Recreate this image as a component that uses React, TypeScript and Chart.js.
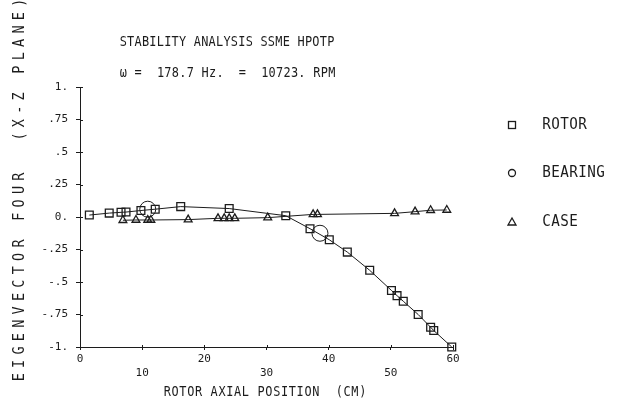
import React, { useEffect, useRef } from "react";
import { Chart, registerables } from "chart.js";

Chart.register(...registerables);

// ---- data ----
const rotorX = [1.5, 4.7, 6.6, 7.4, 9.8, 12.1, 16.2, 24.0, 33.1, 37.0, 40.1, 43.0, 46.6, 50.1, 51.0, 52.0, 54.4, 56.4, 56.9, 59.8];
const rotorY = [0.015, 0.03, 0.036, 0.038, 0.05, 0.06, 0.08, 0.065, 0.01, -0.09, -0.175, -0.27, -0.41, -0.565, -0.605, -0.648, -0.75, -0.848, -0.873, -1.0];
const bearingX = [10.9, 38.6];
const bearingY = [0.06, -0.125];
const caseX = [6.9, 9.0, 10.9, 11.4, 17.4, 22.2, 23.2, 24.0, 24.9, 30.2, 37.5, 38.2, 50.6, 53.9, 56.4, 59.0];
const caseY = [-0.025, -0.023, -0.023, -0.023, -0.02, -0.01, -0.01, -0.01, -0.01, -0.005, 0.02, 0.02, 0.028, 0.041, 0.052, 0.054];

const yTickValues = [1, 0.75, 0.5, 0.25, 0, -0.25, -0.5, -0.75, -1];
const yTickLabels = ["1.", ".75", ".5", ".25", "0.", "-.25", "-.5", "-.75", "-1."];
const xTickValues = [0, 10, 20, 30, 40, 50, 60];
const xTickLabels = ["0", "10", "20", "30", "40", "50", "60"];

const seriesNames = ["ROTOR", "BEARING", "CASE"];
const titleLine1 = "STABILITY ANALYSIS SSME HPOTP";
const titleLine2 = "\u03C9 =  178.7 Hz.  =  10723. RPM";
const xTitle = "ROTOR AXIAL POSITION  (CM)";
const yTitle = "EIGENVECTOR FOUR  (X-Z PLANE)";

const INK = "#1c1c1c";
const FONT = "'DejaVu Sans Mono', monospace";

function toPts(xs: number[], ys: number[]) {
  return xs.map((x, i) => ({ x, y: ys[i] }));
}

// plotter-style monospaced text: glyphs centred in fixed cells
function drawMono(ctx: any, text: string, firstCenter: number, y: number, adv: number, size: number, hs: number) {
  ctx.save();
  ctx.font = `${size}px ${FONT}`;
  ctx.fillStyle = INK;
  ctx.textAlign = "center";
  ctx.textBaseline = "middle";
  for (let i = 0; i < text.length; i++) {
    const ch = text[i];
    if (ch === " ") continue;
    ctx.save();
    ctx.translate(firstCenter + i * adv, y);
    ctx.scale(hs, 1);
    ctx.fillText(ch, 0, 0);
    ctx.restore();
  }
  ctx.restore();
}

function drawSpan(ctx: any, text: string, left: number, right: number, y: number, size: number, hs: number) {
  const g = size * 0.55 * hs;
  const adv = (right - left - g) / (text.length - 1);
  drawMono(ctx, text, left + g / 2, y, adv, size, hs);
}

const decorPlugin = {
  id: "decor",
  afterDraw(chart: any) {
    const ctx = chart.ctx;
    const xs = chart.scales.x;
    const ys = chart.scales.y;
    // inner tick halves
    ctx.save();
    ctx.strokeStyle = INK;
    ctx.lineWidth = 1;
    ctx.beginPath();
    yTickValues.forEach((v) => {
      const py = Math.round(ys.getPixelForValue(v)) + 0.5;
      ctx.moveTo(xs.left, py);
      ctx.lineTo(xs.left + 3, py);
    });
    xTickValues.forEach((v) => {
      const px = Math.round(xs.getPixelForValue(v)) + 0.5;
      ctx.moveTo(px, ys.bottom);
      ctx.lineTo(px, ys.bottom - 2);
    });
    ctx.stroke();
    ctx.restore();

    // titles
    drawSpan(ctx, titleLine1, 120, 334, 42, 14, 0.85);
    drawSpan(ctx, titleLine2, 120, 335, 73, 14, 0.85);
    drawSpan(ctx, xTitle, 164, 366, 392, 14, 0.85);
    ctx.save();
    ctx.translate(20, 0);
    ctx.rotate(-Math.PI / 2);
    drawSpan(ctx, yTitle, -381, 1, 0, 15, 0.9);
    ctx.restore();

    // legend
    const ly = [125, 173, 222];
    const lx = 512;
    ctx.save();
    ctx.strokeStyle = INK;
    ctx.lineWidth = 1.3;
    ctx.strokeRect(lx - 3.5, ly[0] - 3.5, 7, 7);
    ctx.beginPath();
    ctx.arc(lx, ly[1], 3.5, 0, Math.PI * 2);
    ctx.stroke();
    ctx.beginPath();
    ctx.moveTo(lx, ly[2] - 4);
    ctx.lineTo(lx + 4, ly[2] + 3);
    ctx.lineTo(lx - 4, ly[2] + 3);
    ctx.closePath();
    ctx.stroke();
    ctx.restore();
    seriesNames.forEach((name, i) => {
      drawMono(ctx, name, 546.5, ly[i], 9.0, 15, 0.95);
    });
  },
};

export default function App() {
  const ref = useRef<HTMLCanvasElement | null>(null);
  useEffect(() => {
    if (!ref.current) return;
    const chart = new Chart(ref.current, {
      type: "scatter",
      data: {
        datasets: [
          {
            label: seriesNames[0],
            data: toPts(rotorX, rotorY),
            showLine: true,
            borderColor: INK,
            borderWidth: 1,
            pointStyle: "rect",
            pointRadius: 5.5,
            pointBorderWidth: 1.3,
            pointBackgroundColor: "rgba(0,0,0,0)",
            pointBorderColor: INK,
            tension: 0,
            clip: false,
          } as any,
          {
            label: seriesNames[1],
            data: toPts(bearingX, bearingY),
            showLine: false,
            pointStyle: "circle",
            pointRadius: 8,
            pointBorderWidth: 1,
            pointBackgroundColor: "rgba(0,0,0,0)",
            pointBorderColor: INK,
            clip: false,
          } as any,
          {
            label: seriesNames[2],
            data: toPts(caseX, caseY),
            showLine: true,
            borderColor: INK,
            borderWidth: 1,
            pointStyle: "triangle",
            pointRadius: 4.5,
            pointBorderWidth: 1.3,
            pointBackgroundColor: "rgba(0,0,0,0)",
            pointBorderColor: INK,
            tension: 0,
            clip: false,
          } as any,
        ],
      },
      options: {
        animation: false,
        responsive: false,
        events: [],
        layout: { padding: { top: 87, right: 171, left: 0, bottom: 0 } },
        plugins: {
          legend: { display: false },
          tooltip: { enabled: false },
          title: { display: false },
        },
        scales: {
          x: {
            type: "linear",
            min: 0,
            max: 60,
            afterFit: (s: any) => {
              s.height = 57;
            },
            afterBuildTicks: (s: any) => {
              s.ticks = xTickValues.map((v) => ({ value: v }));
            },
            ticks: {
              color: INK,
              font: { family: FONT, size: 11 },
              padding: 3,
              maxRotation: 0,
              autoSkip: false,
              callback: (v: any) => {
                const i = xTickValues.indexOf(Number(v));
                const lab = i >= 0 ? xTickLabels[i] : "";
                return i % 2 === 1 ? ["", lab] : lab;
              },
            },
            grid: { display: true, drawOnChartArea: false, tickLength: 3, color: INK },
            border: { display: true, color: INK, width: 1 },
          },
          y: {
            type: "linear",
            min: -1,
            max: 1,
            afterFit: (s: any) => {
              s.width = 80;
            },
            afterBuildTicks: (s: any) => {
              s.ticks = yTickValues.map((v) => ({ value: v }));
            },
            ticks: {
              color: INK,
              font: { family: FONT, size: 11 },
              padding: 8,
              autoSkip: false,
              callback: (v: any) => {
                const i = yTickValues.indexOf(Number(v));
                return i >= 0 ? yTickLabels[i] : "";
              },
            },
            grid: { display: true, drawOnChartArea: false, tickLength: 4, color: INK },
            border: { display: true, color: INK, width: 1 },
          },
        },
      },
      plugins: [decorPlugin],
    });
    return () => chart.destroy();
  }, []);
  return (
    <div style={{ position: "fixed", left: 0, top: 0, width: 624, height: 404, background: "#fff" }}>
      <canvas ref={ref} width={624} height={404} style={{ width: 624, height: 404 }} />
    </div>
  );
}
